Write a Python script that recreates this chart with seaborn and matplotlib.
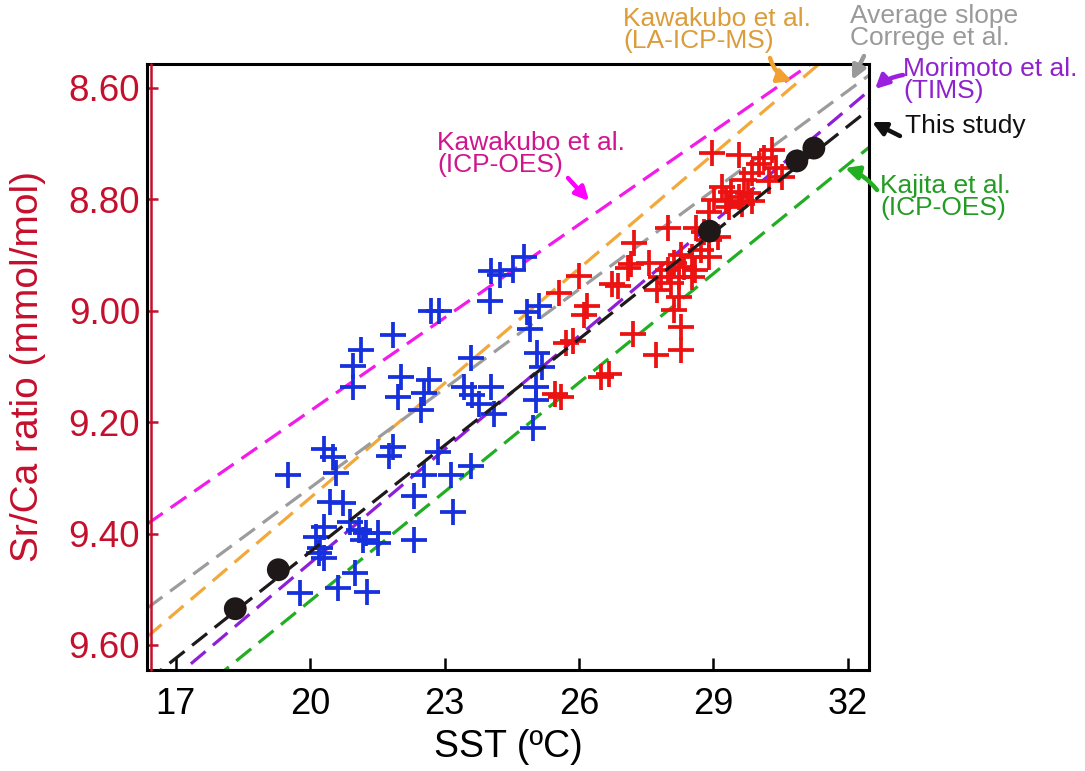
import numpy as np
import pandas as pd
import matplotlib
matplotlib.use("Agg")
import matplotlib.pyplot as plt
import seaborn as sns

# Coral Sr/Ca measurements against sea surface temperature
blue_sst = [24.77, 24.53, 24.03, 24.23, 24.01, 22.69, 22.87, 24.84, 25.11, 24.91,
            23.59, 25.06, 25.17, 21.84, 21.13, 20.95, 20.95, 22.02, 21.95, 22.65,
            22.53, 22.47, 23.43, 23.61, 24.03, 23.77, 24.10, 25.04, 25.04, 24.97,
            23.59, 19.51, 20.30, 20.52, 20.57, 21.84, 21.75, 22.85, 22.53, 23.14,
            22.31, 23.18, 20.45, 20.74, 20.30, 20.90, 21.08, 21.24, 21.51, 21.51,
            20.12, 20.23, 20.30, 22.31, 21.01, 20.63, 21.28, 19.78, 20.19, 21.17]
blue_srca = [8.903, 8.927, 8.929, 8.936, 8.982, 9.000, 9.000, 9.002, 8.991, 9.033,
             9.085, 9.076, 9.101, 9.043, 9.070, 9.099, 9.137, 9.119, 9.155, 9.124,
             9.148, 9.178, 9.137, 9.151, 9.137, 9.167, 9.185, 9.137, 9.160, 9.210,
             9.279, 9.295, 9.248, 9.262, 9.291, 9.245, 9.261, 9.254, 9.295, 9.295,
             9.333, 9.361, 9.343, 9.345, 9.388, 9.379, 9.394, 9.399, 9.399, 9.417,
             9.406, 9.426, 9.444, 9.412, 9.471, 9.498, 9.505, 9.507, 9.435, 9.412]

red_sst = [28.96, 29.56, 30.12, 30.30, 30.01, 30.39, 30.52, 29.85, 30.23, 29.69,
           29.18, 29.40, 29.56, 29.78, 29.02, 29.85, 29.27, 29.34, 29.63, 27.99,
           28.60, 28.78, 28.89, 29.11, 28.73, 28.89, 28.28, 28.51, 28.13, 28.35,
           27.99, 28.58, 27.84, 28.22, 28.51, 28.06, 28.22, 27.55, 27.75, 28.13,
           27.23, 27.17, 27.10, 26.00, 26.74, 26.87, 25.55, 26.18, 26.11, 27.21,
           27.72, 28.28, 25.71, 25.87, 26.49, 26.67, 25.47, 25.60, 28.28, 28.89]
red_srca = [8.717, 8.720, 8.726, 8.711, 8.736, 8.744, 8.760, 8.753, 8.767, 8.765,
            8.778, 8.787, 8.796, 8.789, 8.801, 8.803, 8.803, 8.814, 8.808, 8.851,
            8.851, 8.859, 8.873, 8.868, 8.891, 8.903, 8.900, 8.903, 8.914, 8.921,
            8.927, 8.927, 8.939, 8.939, 8.939, 8.950, 8.975, 8.914, 8.963, 8.999,
            8.878, 8.916, 8.923, 8.938, 8.952, 8.955, 8.968, 8.991, 9.008, 9.042,
            9.079, 9.070, 9.058, 9.054, 9.119, 9.113, 9.149, 9.155, 9.029, 8.823]

mean_sst = [18.33, 19.29, 28.91, 30.86, 31.24]
mean_srca = [9.535, 9.465, 8.857, 8.731, 8.708]

# Linear calibrations: Sr/Ca = intercept + slope * SST
cal_names = ["Kawakubo ICP-OES", "Kawakubo LA-ICP-MS", "Correge average",
             "Morimoto TIMS", "This study", "Kajita ICP-OES"]
cal_intercepts = [10.296, 10.708, 10.506, 10.813, 10.707, 10.827]
cal_slopes = [-0.0558, -0.0686, -0.0594, -0.0680, -0.0637, -0.0653]
cal_colors = ["#F21BEA", "#F2A83A", "#9C9C9C", "#8E1FD8", "#1E1A1A", "#22AE22"]

x_ticks = [17, 20, 23, 26, 29, 32]
y_ticks = [8.60, 8.80, 9.00, 9.20, 9.40, 9.60]
y_ticklabels = ["8.60", "8.80", "9.00", "9.20", "9.40", "9.60"]

x_lim = (16.36, 32.47)
y_lim = (9.645, 8.557)

RED_AXIS = "#C4102C"

sns.set_style("ticks")
plt.rcParams["font.family"] = ["Liberation Sans", "DejaVu Sans"]
plt.rcParams["text.color"] = "black"
plt.rcParams["axes.labelcolor"] = "black"

W, H = 1085, 771
fig = plt.figure(figsize=(W / 100, H / 100), dpi=100)
ax = fig.add_axes([147 / W, 1 - 670 / H, (869 - 147) / W, (670 - 64) / H])


def fpos(px, py):
    """Pixel position (from top-left) to figure fraction."""
    return (px / W, 1 - py / H)


# Calibration lines
grid = np.array(x_lim)
for name, a, b, c in zip(cal_names, cal_intercepts, cal_slopes, cal_colors):
    df = pd.DataFrame({"sst": grid, "srca": a + b * grid})
    sns.lineplot(data=df, x="sst", y="srca", ax=ax, color=c, lw=2.3,
                 linestyle=(0, (6.0, 3.0)),
                 zorder=3.5 if name == "This study" else 2)

# Seasonal measurements
blue_df = pd.DataFrame({"sst": blue_sst, "srca": blue_srca})
red_df = pd.DataFrame({"sst": red_sst, "srca": red_srca})
sns.scatterplot(data=blue_df, x="sst", y="srca", ax=ax, marker="+",
                s=330, color="#1530DC", linewidth=2.7, zorder=3)
sns.scatterplot(data=red_df, x="sst", y="srca", ax=ax, marker="+",
                s=330, color="#EC1212", linewidth=2.7, zorder=3)

# Mean values
mean_df = pd.DataFrame({"sst": mean_sst, "srca": mean_srca})
sns.scatterplot(data=mean_df, x="sst", y="srca", ax=ax, marker="o",
                s=270, color="#1E1818", edgecolor="none", zorder=4)

ax.set_xlim(*x_lim)
ax.set_ylim(*y_lim)
ax.set_xticks(x_ticks)
ax.set_xticklabels([str(t) for t in x_ticks])
ax.set_yticks(y_ticks)
ax.set_yticklabels(y_ticklabels)

for sp in ax.spines.values():
    sp.set_visible(True)
    sp.set_color("black")
    sp.set_linewidth(2.2)

ax.tick_params(axis="x", direction="in", length=9, width=1.8, colors="black",
               labelcolor="black", labelsize=26, pad=12, top=False)
ax.tick_params(axis="y", direction="in", length=8, width=1.8, colors=RED_AXIS,
               labelcolor=RED_AXIS, labelsize=26.5, pad=5, right=False)

# Red inner axis line along the Sr/Ca scale
ax.plot([0.005, 0.005], [0, 1], transform=ax.transAxes, color=RED_AXIS,
        lw=1.8, clip_on=False, zorder=5)

ax.set_xlabel("SST (ºC)", fontsize=27, labelpad=5, color="black")
ax.set_ylabel("Sr/Ca ratio (mmol/mol)", fontsize=28, color=RED_AXIS, labelpad=16)

# Labels for the calibration lines
labels = [
    ("Kawakubo et al.\n(ICP-OES)", "#D0168E", (437, 131), (568, 178), (589, 201), 0.0),
    ("Kawakubo et al.\n(LA-ICP-MS)", "#DC9C3A", (623, 7), (770, 58), (792, 81), 0.25),
    ("Average slope\nCorrege et al.", "#9A9A9A", (850, 4), (864, 56), (852, 80), 0.0),
    ("Morimoto et al.\n(TIMS)", "#8E22CC", (903, 57), (903, 75), (875, 89), 0.15),
    ("This study", "#111111", (905, 114), (900, 136), (872, 122), 0.0),
    ("Kajita et al.\n(ICP-OES)", "#249C24", (880, 174), (877, 190), (845, 168), 0.15),
]
arrow_colors = ["#FF00FF", "#F2A030", "#9A9A9A", "#9B20E0", "#111111", "#22B022"]
for (txt, tc, tpos, tail, tip, rad), ac in zip(labels, arrow_colors):
    fig.text(*fpos(*tpos), txt, color=tc, fontsize=19, ha="left", va="top",
             linespacing=0.88)
    ax.annotate("", xy=fpos(*tip), xytext=fpos(*tail),
                xycoords="figure fraction", textcoords="figure fraction",
                annotation_clip=False,
                arrowprops=dict(arrowstyle="-|>", color=ac, lw=3.2,
                                mutation_scale=20, shrinkA=0, shrinkB=0,
                                connectionstyle=f"arc3,rad={rad}"))

fig.savefig("out.png", dpi=100)
